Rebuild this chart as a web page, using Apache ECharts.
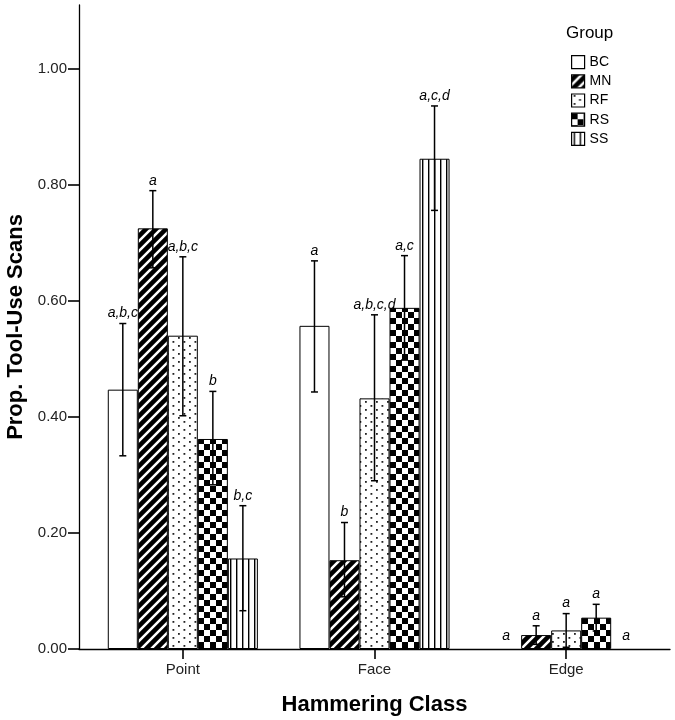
<!DOCTYPE html>
<html><head><meta charset="utf-8">
<script src="https://cdn.jsdelivr.net/npm/echarts@6/dist/echarts.min.js"></script>
<style>html,body{margin:0;padding:0;background:#fff}#c{width:675px;height:720px}</style>
</head><body><div id="c"></div>
<script>
const categories = ['Point', 'Face', 'Edge'];
const groups = ['BC', 'MN', 'RF', 'RS', 'SS'];
const yTicks = [0, 0.2, 0.4, 0.6, 0.8, 1.0];

const meanBC = [0.447, 0.557, 0.000];
const meanMN = [0.725, 0.153, 0.024];
const meanRF = [0.540, 0.432, 0.032];
const meanRS = [0.362, 0.588, 0.054];
const meanSS = [0.156, 0.845, 0.000];

const lowBC = [0.333, 0.443, 0.000];
const highBC = [0.561, 0.669, 0.000];
const lowMN = [0.657, 0.090, 0.008];
const highMN = [0.790, 0.218, 0.040];
const lowRF = [0.402, 0.290, 0.003];
const highRF = [0.676, 0.576, 0.061];
const lowRS = [0.283, 0.498, 0.031];
const highRS = [0.444, 0.678, 0.077];
const lowSS = [0.066, 0.756, 0.000];
const highSS = [0.247, 0.936, 0.000];

const lettersBC = ['a,b,c', 'a', 'a'];
const lettersMN = ['a', 'b', 'a'];
const lettersRF = ['a,b,c', 'a,b,c,d', 'a'];
const lettersRS = ['b', 'a,c', 'a'];
const lettersSS = ['b,c', 'a,c,d', 'a'];

const means = [meanBC, meanMN, meanRF, meanRS, meanSS];
const lows = [lowBC, lowMN, lowRF, lowRS, lowSS];
const highs = [highBC, highMN, highRF, highRS, highSS];
const letters = [lettersBC, lettersMN, lettersRF, lettersRS, lettersSS];

function tile(w, h, draw) {
  const c = document.createElement('canvas');
  c.width = w; c.height = h;
  const g = c.getContext('2d');
  draw(g, w, h);
  return { image: c, repeat: 'repeat' };
}
const patBC = '#ffffff';
const patMN = tile(10, 10, (g) => {
  g.fillStyle = '#000'; g.fillRect(0, 0, 10, 10);
  g.strokeStyle = '#fff'; g.lineWidth = 2.5;
  g.beginPath();
  g.moveTo(-5, 5); g.lineTo(5, -5);
  g.moveTo(0, 10); g.lineTo(10, 0);
  g.moveTo(5, 15); g.lineTo(15, 5);
  g.stroke();
});
const patRF = tile(11, 8, (g) => {
  g.fillStyle = '#fff'; g.fillRect(0, 0, 11, 8);
  g.fillStyle = '#222';
  g.fillRect(2, 1, 1.8, 1.8);
  g.fillRect(7.5, 5, 1.8, 1.8);
});
const patRS = tile(12, 12, (g) => {
  g.fillStyle = '#fff'; g.fillRect(0, 0, 12, 12);
  g.fillStyle = '#000';
  g.fillRect(0, 0, 6, 6); g.fillRect(6, 6, 6, 6);
});
const patSS = tile(6, 4, (g) => {
  g.fillStyle = '#fff'; g.fillRect(0, 0, 6, 4);
  g.fillStyle = '#000'; g.fillRect(2, 0, 1.4, 4);
});
const patterns = [patBC, patMN, patRF, patRS, patSS];

const GAP = 0.217;
const FONT = 'Liberation Sans, Arial, sans-serif';

const barSeries = groups.map((name, gi) => ({
  type: 'bar', name: name,
  xAxisIndex: 0, yAxisIndex: 0,
  data: means[gi].map((v) => ({
    value: v,
    itemStyle: v === 0 ? { borderWidth: 0 } : undefined
  })),
  barGap: '0%', barCategoryGap: (GAP * 100) + '%',
  itemStyle: { color: patterns[gi], borderColor: '#000', borderWidth: 1 },
  emphasis: { disabled: true },
  silent: true,
  z: 2
}));

const errSeries = groups.map((name, gi) => ({
  type: 'custom',
  xAxisIndex: 0, yAxisIndex: 0,
  data: categories.map((c, ci) => [ci, lows[gi][ci], highs[gi][ci]]),
  encode: { x: 0, y: [1, 2] },
  z: 5, silent: true,
  renderItem: function (params, api) {
    const ci = api.value(0);
    const band = api.size([1, 0])[0];
    const bw = band * (1 - GAP) / groups.length;
    const cx = api.coord([ci, 0])[0] + (gi - (groups.length - 1) / 2) * bw;
    const yLo = api.coord([ci, api.value(1)])[1];
    const yHi = api.coord([ci, api.value(2)])[1];
    const children = [];
    const capHalf = 3.5;
    const hasBar = Math.abs(yLo - yHi) > 0.5;
    if (hasBar) {
      const st = { stroke: '#000', lineWidth: 1.5 };
      children.push({ type: 'line', shape: { x1: cx, y1: yLo, x2: cx, y2: yHi }, style: st });
      children.push({ type: 'line', shape: { x1: cx - capHalf, y1: yHi, x2: cx + capHalf, y2: yHi }, style: st });
      children.push({ type: 'line', shape: { x1: cx - capHalf, y1: yLo, x2: cx + capHalf, y2: yLo }, style: st });
    }
    children.push({
      type: 'text',
      style: {
        x: cx, y: yHi - (hasBar ? 3 : 6), text: letters[gi][ci],
        font: 'italic 14px ' + FONT, fill: '#000',
        textAlign: 'center', textVerticalAlign: 'bottom'
      }
    });
    return { type: 'group', children: children };
  }
}));

const chart = echarts.init(document.getElementById('c'), null, { renderer: 'canvas' });
chart.setOption({
  animation: false,
  backgroundColor: '#fff',
  textStyle: { fontFamily: FONT },
  title: {
    text: 'Group', left: 566, top: 25, padding: 0,
    textStyle: { fontSize: 17, fontWeight: 'normal', color: '#000', fontFamily: FONT }
  },
  legend: {
    data: groups,
    orient: 'vertical', left: 571, top: 55, padding: 0,
    itemWidth: 13, itemHeight: 13, itemGap: 5,
    icon: 'rect',
    selectedMode: false,
    textStyle: { fontSize: 14, color: '#000', fontFamily: FONT },
    itemStyle: { borderColor: '#000', borderWidth: 1.2 }
  },
  grid: [
    { left: 87, right: 13, top: 5, bottom: 71, outerBoundsMode: 'none', containLabel: false },
    { left: 79, right: 5, top: 5, bottom: 71, outerBoundsMode: 'none', containLabel: false }
  ],
  xAxis: [
    {
      type: 'category', data: categories, gridIndex: 0,
      axisLine: { show: false },
      axisTick: { show: true, alignWithLabel: true, length: 10, lineStyle: { color: '#000', width: 1.6 } },
      axisLabel: { fontSize: 15, color: '#222', margin: 13, fontFamily: FONT },
      name: 'Hammering Class', nameLocation: 'middle', nameGap: 45,
      nameTextStyle: { fontSize: 22, fontWeight: 'bold', color: '#000', fontFamily: FONT }
    },
    {
      type: 'value', gridIndex: 1, min: 0, max: 1,
      axisLine: { show: true, onZero: false, lineStyle: { color: '#000', width: 1.3 } },
      axisTick: { show: false }, axisLabel: { show: false }, splitLine: { show: false }
    }
  ],
  yAxis: [
    {
      type: 'value', gridIndex: 0, min: 0, max: 1.11, show: false
    },
    {
      type: 'value', gridIndex: 1, min: 0, max: 1.11,
      axisLine: { show: true, lineStyle: { color: '#000', width: 1.3 } },
      axisTick: { show: true, length: 11, customValues: yTicks, lineStyle: { color: '#000', width: 1.6 } },
      axisLabel: { fontSize: 15, color: '#222', margin: 12, customValues: yTicks, formatter: (v) => v.toFixed(2), fontFamily: FONT },
      splitLine: { show: false },
      name: 'Prop. Tool-Use Scans', nameLocation: 'middle', nameGap: 51,
      nameTextStyle: { fontSize: 22, fontWeight: 'bold', color: '#000', fontFamily: FONT }
    }
  ],
  series: barSeries.concat(errSeries)
});
</script>
</body></html>
